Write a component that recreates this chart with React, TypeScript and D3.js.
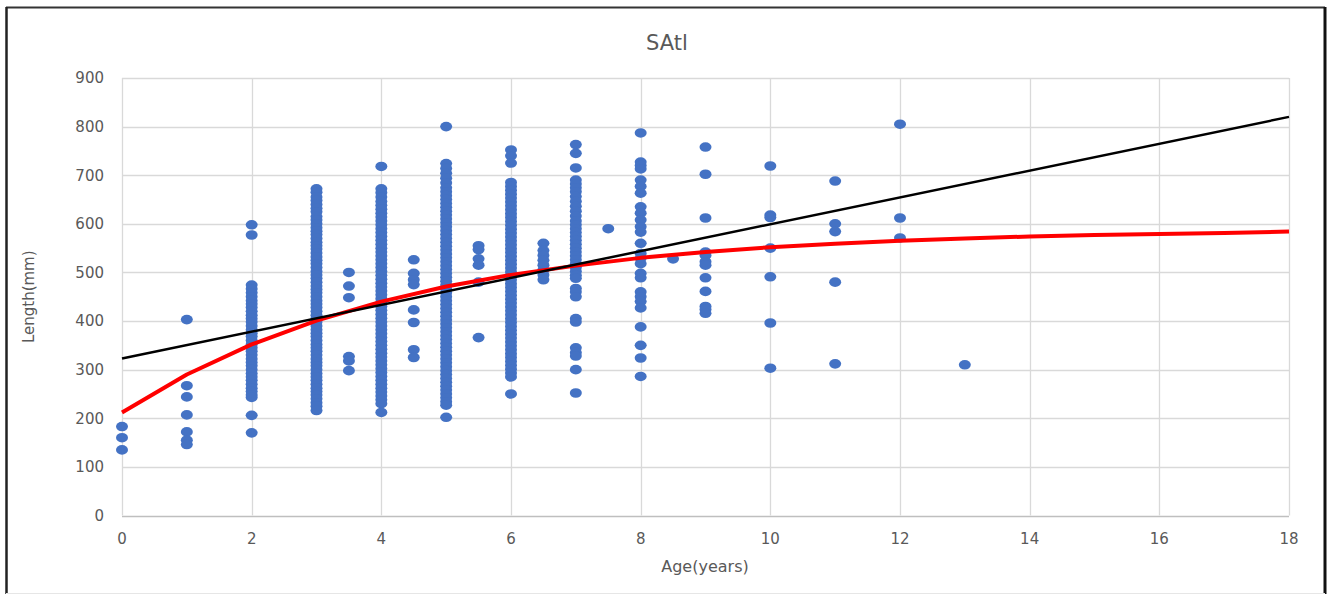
import React from "react";
import * as d3 from "d3";

const chartTitle = "SAtl";
const xAxisTitle = "Age(years)";
const yAxisTitle = "Length(mm)";
const xTicks = [0, 2, 4, 6, 8, 10, 12, 14, 16, 18];
const yTicks = [0, 100, 200, 300, 400, 500, 600, 700, 800, 900];

const lengthsAt0 = [183, 160, 135];
const lengthsAt1 = [403, 267, 244, 207, 172, 155, 146];
const lengthsAt2 = [598, 577, 474, 466, 458, 450, 442, 435, 428, 420, 412, 405, 398, 390, 382, 375, 368, 360, 352, 345, 338, 330, 322, 315, 308, 300, 292, 285, 278, 270, 262, 255, 248, 243, 206, 170];
const lengthsAt3 = [672, 665, 655, 648, 640, 632, 625, 615, 608, 600, 592, 585, 578, 570, 562, 555, 548, 540, 532, 525, 518, 510, 502, 495, 488, 480, 472, 465, 458, 450, 442, 435, 428, 420, 412, 405, 398, 390, 382, 375, 368, 360, 352, 345, 338, 330, 322, 315, 308, 300, 292, 285, 278, 270, 262, 255, 248, 240, 232, 225, 216];
const lengthsAt3h = [500, 472, 448, 327, 318, 298];
const lengthsAt4 = [718, 672, 664, 655, 646, 638, 630, 622, 614, 606, 598, 590, 582, 574, 566, 558, 550, 542, 534, 526, 518, 510, 502, 494, 486, 478, 470, 462, 454, 446, 438, 430, 422, 414, 406, 398, 390, 382, 374, 366, 358, 350, 342, 334, 326, 318, 310, 302, 294, 286, 278, 270, 262, 254, 246, 238, 230, 212];
const lengthsAt4h = [526, 498, 485, 475, 423, 397, 341, 325];
const lengthsAt5 = [800, 724, 714, 704, 694, 684, 674, 666, 658, 650, 642, 634, 626, 618, 610, 602, 594, 586, 578, 570, 562, 554, 546, 538, 530, 522, 514, 506, 498, 490, 482, 474, 466, 458, 450, 442, 434, 426, 418, 410, 402, 394, 386, 378, 370, 362, 354, 346, 338, 330, 322, 314, 306, 298, 290, 282, 274, 266, 258, 250, 242, 234, 227, 202];
const lengthsAt5h = [555, 547, 528, 515, 480, 366];
const lengthsAt6 = [752, 740, 725, 685, 677, 669, 661, 653, 645, 637, 629, 621, 613, 605, 597, 589, 581, 573, 565, 557, 549, 541, 533, 525, 517, 509, 501, 493, 485, 477, 469, 461, 453, 445, 437, 429, 421, 413, 405, 397, 389, 381, 373, 365, 357, 349, 341, 333, 325, 317, 309, 301, 293, 285, 250];
const lengthsAt6h = [560, 545, 535, 525, 515, 505, 495, 485];
const lengthsAt7 = [763, 745, 715, 690, 682, 674, 666, 656, 646, 636, 626, 616, 606, 598, 590, 582, 574, 566, 558, 550, 542, 534, 526, 518, 510, 502, 494, 488, 467, 460, 450, 405, 398, 345, 335, 328, 300, 252];
const lengthsAt7h = [590];
const lengthsAt8 = [787, 727, 720, 713, 690, 677, 663, 635, 622, 608, 594, 583, 560, 539, 529, 518, 498, 489, 460, 450, 440, 427, 388, 350, 324, 286];
const lengthsAt8h = [528];
const lengthsAt9 = [758, 702, 612, 542, 535, 522, 515, 489, 461, 430, 424, 416];
const lengthsAt10 = [719, 618, 613, 550, 491, 396, 303];
const lengthsAt11 = [688, 600, 584, 480, 312];
const lengthsAt12 = [805, 612, 571];
const lengthsAt13 = [310];

const samples: { age: number; lengths: number[] }[] = [
  { age: 0, lengths: lengthsAt0 },
  { age: 1, lengths: lengthsAt1 },
  { age: 2, lengths: lengthsAt2 },
  { age: 3, lengths: lengthsAt3 },
  { age: 3.5, lengths: lengthsAt3h },
  { age: 4, lengths: lengthsAt4 },
  { age: 4.5, lengths: lengthsAt4h },
  { age: 5, lengths: lengthsAt5 },
  { age: 5.5, lengths: lengthsAt5h },
  { age: 6, lengths: lengthsAt6 },
  { age: 6.5, lengths: lengthsAt6h },
  { age: 7, lengths: lengthsAt7 },
  { age: 7.5, lengths: lengthsAt7h },
  { age: 8, lengths: lengthsAt8 },
  { age: 8.5, lengths: lengthsAt8h },
  { age: 9, lengths: lengthsAt9 },
  { age: 10, lengths: lengthsAt10 },
  { age: 11, lengths: lengthsAt11 },
  { age: 12, lengths: lengthsAt12 },
  { age: 13, lengths: lengthsAt13 },
];

const growthAges = [0, 1, 2, 3, 4, 5, 6, 7, 8, 9, 10, 11, 12, 13, 14, 15, 16, 17, 18];
const growthLengths = [212, 290, 352, 401, 440, 471, 495, 514, 530, 542, 552, 559, 565, 570, 574, 577, 579, 581, 584];

const trendAges = [0, 18];
const trendLengths = [323, 820];

const W = 1332;
const H = 597;
const FONT = "'DejaVu Sans', sans-serif";
const TEXT = "#595959";

export default function App() {
  const x = d3.scaleLinear().domain([0, 18]).range([122, 1289]);
  const y = d3.scaleLinear().domain([0, 900]).range([515.5, 78]);

  const points = samples.flatMap((s) => s.lengths.map((l) => ({ age: s.age, len: l })));

  const growthLine = d3
    .line<number>()
    .x((_, i) => x(growthAges[i]))
    .y((d) => y(d));
  const trendLine = d3
    .line<number>()
    .x((_, i) => x(trendAges[i]))
    .y((d) => y(d));

  return (
    <div style={{ position: "absolute", left: 0, top: 0 }}>
      <svg width={W} height={H} style={{ display: "block", background: "#fff" }}>
        <rect x={0} y={0} width={W} height={H} fill="#fff" />
        {/* frame */}
        <line x1={6} y1={7.5} x2={1325} y2={7.5} stroke="#333" strokeWidth={2} />
        <line x1={6.5} y1={7} x2={6.5} y2={594} stroke="#222" strokeWidth={2.5} />
        <line x1={1325} y1={7} x2={1325} y2={594} stroke="#111" strokeWidth={3} />
        <line x1={6} y1={593.5} x2={1325} y2={593.5} stroke="#e6e6e6" strokeWidth={1} />

        {/* horizontal gridlines */}
        {yTicks.map((t) => (
          <line
            key={"hy" + t}
            x1={x(0)}
            x2={x(18)}
            y1={Math.round(y(t)) + 0.5}
            y2={Math.round(y(t)) + 0.5}
            stroke={t === 0 ? "#bfbfbf" : "#d9d9d9"}
            strokeWidth={1.3}
          />
        ))}
        {/* vertical gridlines */}
        {xTicks.map((t) => (
          <line
            key={"vx" + t}
            x1={Math.round(x(t)) + 0.5}
            x2={Math.round(x(t)) + 0.5}
            y1={y(900)}
            y2={y(0)}
            stroke="#d9d9d9"
            strokeWidth={1.3}
          />
        ))}

        {/* y tick labels */}
        {yTicks.map((t) => (
          <text
            key={"ly" + t}
            x={104}
            y={y(t)}
            dy="0.36em"
            textAnchor="end"
            fontFamily={FONT}
            fontSize={15}
            fill={TEXT}
          >
            {t}
          </text>
        ))}
        {/* x tick labels */}
        {xTicks.map((t) => (
          <text
            key={"lx" + t}
            x={x(t)}
            y={544}
            textAnchor="middle"
            fontFamily={FONT}
            fontSize={15}
            fill={TEXT}
          >
            {t}
          </text>
        ))}

        {/* points */}
        {points.map((p, i) => (
          <ellipse key={i} cx={x(p.age)} cy={y(p.len)} rx={6} ry={4.8} fill="#4472C4" />
        ))}

        {/* fitted growth curve */}
        <path d={growthLine(growthLengths) || ""} fill="none" stroke="#ff0000" strokeWidth={4} strokeLinejoin="round" />
        {/* linear trend */}
        <path d={trendLine(trendLengths) || ""} fill="none" stroke="#000" strokeWidth={2.5} />

        {/* titles */}
        <text x={667} y={50} textAnchor="middle" fontFamily={FONT} fontSize={21} fill={TEXT}>
          {chartTitle}
        </text>
        <text x={705} y={572} textAnchor="middle" fontFamily={FONT} fontSize={16} fill={TEXT}>
          {xAxisTitle}
        </text>
        <text
          transform={`translate(34, ${y(450)}) rotate(-90)`}
          textAnchor="middle"
          fontFamily={FONT}
          fontSize={15}
          fill={TEXT}
        >
          {yAxisTitle}
        </text>
      </svg>
    </div>
  );
}
